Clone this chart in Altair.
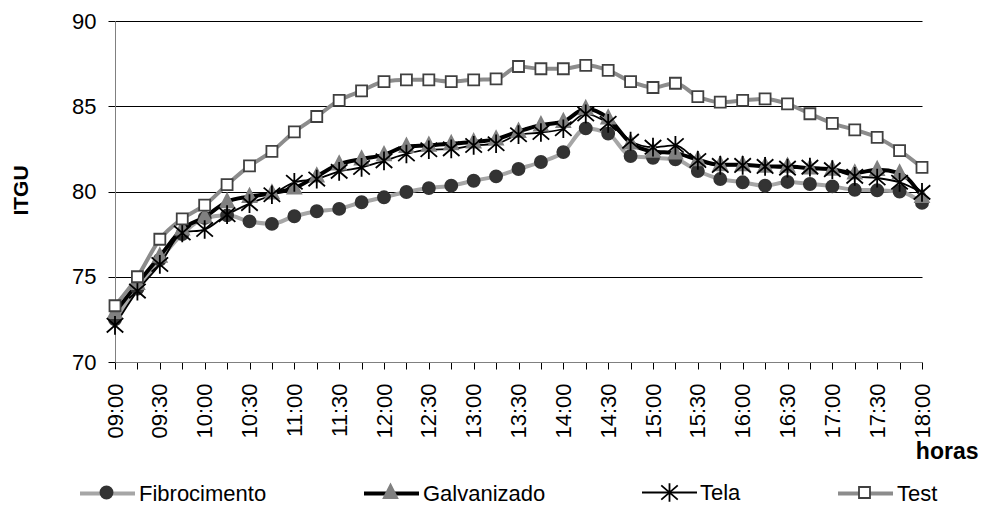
import altair as alt
import pandas as pd

times = ["09:00", "09:15", "09:30", "09:45", "10:00", "10:15", "10:30", "10:45",
         "11:00", "11:15", "11:30", "11:45", "12:00", "12:15", "12:30", "12:45",
         "13:00", "13:15", "13:30", "13:45", "14:00", "14:15", "14:30", "14:45",
         "15:00", "15:15", "15:30", "15:45", "16:00", "16:15", "16:30", "16:45",
         "17:00", "17:15", "17:30", "17:45", "18:00"]

fibrocimento = [72.5, 74.3, 76.0, 77.5, 78.45, 78.6, 78.25, 78.1, 78.55, 78.84, 78.98, 79.37,
                79.66, 79.97, 80.2, 80.34, 80.63, 80.89, 81.32, 81.73, 82.31, 83.7, 83.4, 82.08,
                81.98, 81.89, 81.2, 80.73, 80.54, 80.34, 80.56, 80.44, 80.3, 80.1, 80.07, 80.0, 79.33]
galvanizado = [72.9, 74.6, 76.2, 77.8, 78.5, 79.4, 79.7, 79.9, 80.2, 80.9, 81.6, 81.9,
               82.15, 82.64, 82.7, 82.8, 82.9, 83.07, 83.52, 83.9, 84.1, 84.85, 84.3, 82.84,
               82.35, 82.25, 81.86, 81.57, 81.57, 81.47, 81.47, 81.37, 81.3, 81.08, 81.28, 81.08, 79.7]
tela = [72.15, 74.16, 75.72, 77.57, 77.77, 78.64, 79.29, 79.81, 80.54, 80.73, 81.18, 81.41,
        81.8, 82.2, 82.45, 82.5, 82.7, 82.8, 83.33, 83.46, 83.68, 84.55, 84.0, 82.95,
        82.6, 82.7, 81.82, 81.53, 81.53, 81.47, 81.37, 81.43, 81.28, 80.89, 80.79, 80.54, 79.95]
test = [73.3, 75.0, 77.2, 78.4, 79.2, 80.4, 81.5, 82.35, 83.5, 84.4, 85.35, 85.9,
        86.45, 86.55, 86.55, 86.45, 86.55, 86.6, 87.33, 87.2, 87.2, 87.4, 87.1, 86.45,
        86.1, 86.35, 85.57, 85.24, 85.34, 85.43, 85.14, 84.56, 84.0, 83.62, 83.17, 82.4, 81.41]

series_names = ["Fibrocimento", "Galvanizado", "Tela", "Test"]
series_values = [fibrocimento, galvanizado, tela, test]
line_colors = ["#a6a6a6", "#000000", "#000000", "#8c8c8c"]
line_widths = [4, 4, 1.8, 4]
marker_fill = ["#333333", "#808080", "transparent", "#ffffff"]
marker_stroke = ["#333333", "#808080", "#000000", "#404040"]
marker_paths = [
    "M0.22,0A0.22,0.22 0 1,1 -0.22,0A0.22,0.22 0 1,1 0.22,0Z",
    "M0,-0.29L0.25,0.2L-0.25,0.2Z",
    "M0,-0.34V0.34M-0.3,-0.26L0.3,0.26M-0.3,0.26L0.3,-0.26",
    "M-0.2,-0.2H0.2V0.2H-0.2Z",
]
legend_x = [-37, 247, 526, 721]

rows = []
for name, vals in zip(series_names, series_values):
    for t, v in zip(times, vals):
        rows.append({"hora": t, "serie": name, "ITGU": v})
df = pd.DataFrame(rows)

FONT = "Liberation Sans"
SYM = 3025
LEG_Y = 443

x_enc = alt.X(
    "hora:O",
    sort=times,
    scale=alt.Scale(type="point", padding=0),
    axis=alt.Axis(
        title="horas",
        titleFont=FONT, titleFontSize=23, titleFontWeight="bold", titleColor="#000",
        titleAnchor="end", titleAlign="right", titleBaseline="alphabetic",
        titleX=863, titleY=96,
        labelExpr="(indexof(datum.label, ':15') >= 0 || indexof(datum.label, ':45') >= 0) ? '' : datum.label",
        labelAngle=-90, labelFont=FONT, labelFontSize=22, labelColor="#000",
        labelPadding=14, tickSize=7, tickColor="#000", domainColor="#808080",
        labelOverlap=False, grid=False,
    ),
)
y_enc = alt.Y(
    "ITGU:Q",
    scale=alt.Scale(domain=[70, 90], nice=False, zero=False),
    axis=alt.Axis(
        title="ITGU",
        titleFont=FONT, titleFontSize=21, titleFontWeight="bold", titleColor="#000",
        titleAngle=270, titleAlign="center", titleBaseline="alphabetic",
        titleX=-88, titleY=169,
        values=[70, 75, 80, 85, 90],
        labelFont=FONT, labelFontSize=22, labelColor="#000", labelPadding=12,
        tickSize=7, tickColor="#000", domainColor="#808080",
        grid=True,
        gridColor={"condition": {"test": "datum.value === 70", "value": "#808080"}, "value": "#000000"},
        gridWidth=1,
    ),
)

line_layers = []
point_layers = []
for i, name in enumerate(series_names):
    base = alt.Chart(df).transform_filter(alt.datum.serie == name)
    leg_line = alt.Legend(
        orient="none", legendX=legend_x[i], legendY=LEG_Y, padding=0, title=None,
        symbolType="stroke", symbolSize=SYM, symbolStrokeWidth=line_widths[i],
        labelFont=FONT, labelFontSize=22, labelColor="#000", labelOffset=2,
    )
    leg_mark = alt.Legend(
        orient="none", legendX=legend_x[i], legendY=LEG_Y, padding=0, title=None,
        symbolSize=SYM, symbolStrokeWidth=1.8,
        labelExpr="''", labelFont=FONT, labelFontSize=22, labelOffset=2,
    )
    line_layers.append(
        base.mark_line(interpolate="monotone", strokeWidth=line_widths[i]).encode(
            x=x_enc,
            y=y_enc,
            stroke=alt.Stroke("serie:N", scale=alt.Scale(domain=[name], range=[line_colors[i]]),
                              legend=leg_line),
        )
    )
    point_layers.append(
        base.mark_point(size=SYM, opacity=1, strokeWidth=1.8).encode(
            x=x_enc,
            y=y_enc,
            shape=alt.Shape("serie:N", scale=alt.Scale(domain=[name], range=[marker_paths[i]]),
                            legend=leg_mark),
            fill=alt.Fill("serie:N", scale=alt.Scale(domain=[name], range=[marker_fill[i]]),
                          legend=leg_mark),
            stroke=alt.Stroke("serie:N", scale=alt.Scale(domain=[name], range=[marker_stroke[i]]),
                              legend=leg_mark),
        )
    )

chart = alt.layer(*line_layers, *point_layers).resolve_scale(
    stroke="independent", shape="independent", fill="independent"
).resolve_legend(
    stroke="independent", shape="independent", fill="independent"
).properties(
    width=807, height=341,
    autosize=alt.AutoSizeParams(type="none"),
    padding={"left": 115, "top": 21, "right": 59, "bottom": 143},
    background="white",
).configure_view(stroke=None)

chart.save("out.html", embed_options={"renderer": "svg", "actions": False})
